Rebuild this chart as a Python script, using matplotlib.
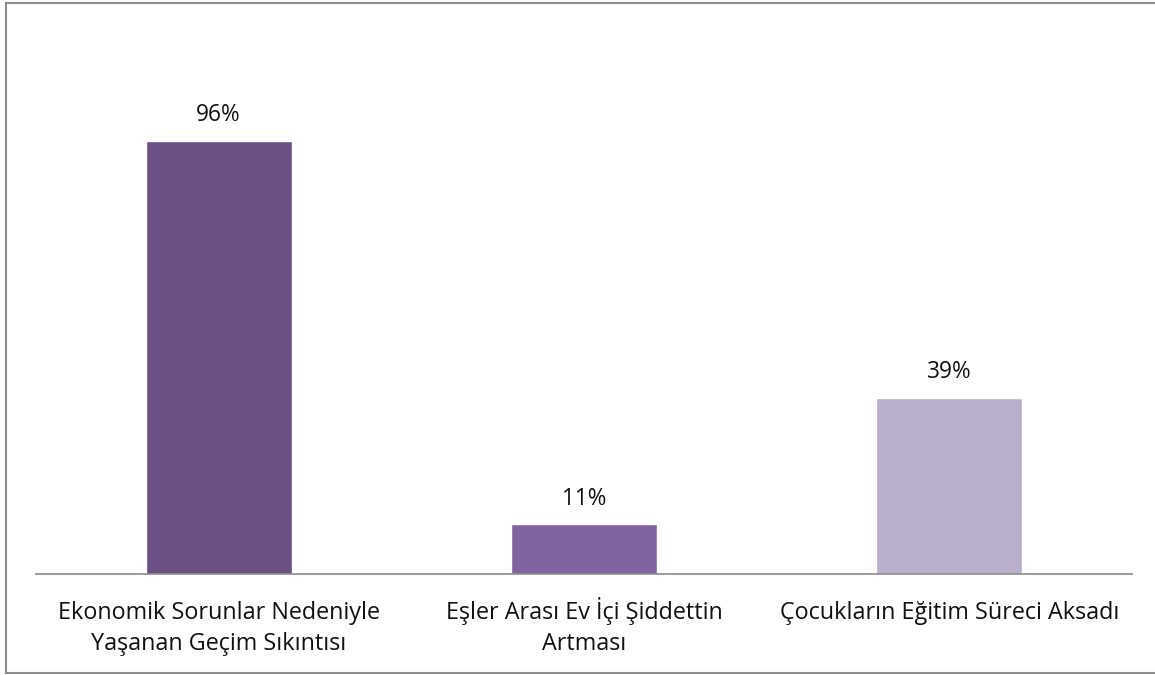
import matplotlib
matplotlib.use("Agg")
import matplotlib.pyplot as plt
from matplotlib.lines import Line2D
import matplotlib.transforms as mtransforms

categories = ["Ekonomik Sorunlar Nedeniyle\nYaşanan Geçim Sıkıntısı",
              "Eşler Arası Ev İçi Şiddettin\nArtması",
              "Çocukların Eğitim Süreci Aksadı"]
values = [0.96, 0.11, 0.39]
labels = ["96%", "11%", "39%"]
colors = ["#6a5085", "#8064a2", "#b9afcb"]

plt.rcParams['font.family'] = ['Open Sans', 'DejaVu Sans']

W, H = 1155, 675
fig = plt.figure(figsize=(W/100, H/100), dpi=100)
ax = fig.add_axes([36/W, (H-574)/H, (1132-36)/W, (574-33)/H])

x = list(range(len(categories)))
bars = ax.bar(x, values, width=0.4, color=colors, edgecolor="white", linewidth=1.0, zorder=2)
ax.set_xlim(-0.5, len(categories)-0.5)
ax.set_ylim(0, 1.2)

for xi, v, lab in zip(x, values, labels):
    ax.annotate(lab, (xi, v), xytext=(0, 10), textcoords="offset points",
                ha="center", va="bottom", fontsize=16.3, color="#111111")

# category labels: each line placed on its own baseline so first lines align
ax.set_xticks(x)
ax.set_xticklabels([])
ax.tick_params(axis="x", length=0)
trans = mtransforms.blended_transform_factory(ax.transData, ax.transAxes)
ax_h_px = 574 - 33
first_baseline_px = 45
line_pitch_px = 31
for xi, cat in zip(x, categories):
    for k, line in enumerate(cat.split("\n")):
        ypx = first_baseline_px + k * line_pitch_px
        ax.text(xi, -ypx/ax_h_px, line, transform=trans, ha="center", va="baseline",
                fontsize=16.8, color="#111111", clip_on=False)

ax.set_yticks([])
for s in ["top", "right", "left"]:
    ax.spines[s].set_visible(False)
ax.spines["bottom"].set_color("#8c8c8c")
ax.spines["bottom"].set_linewidth(1.2)

# outer chart border
bc = "#8c8c8c"
fig.add_artist(Line2D([6/W, 6/W], [1-3/H, 1-673/H], transform=fig.transFigure, color=bc, lw=1.5))
fig.add_artist(Line2D([6/W, 1.0], [1-3/H, 1-3/H], transform=fig.transFigure, color=bc, lw=1.5))
fig.add_artist(Line2D([6/W, 1.0], [1-673/H, 1-673/H], transform=fig.transFigure, color=bc, lw=1.5))

fig.savefig("out.png", dpi=100)
